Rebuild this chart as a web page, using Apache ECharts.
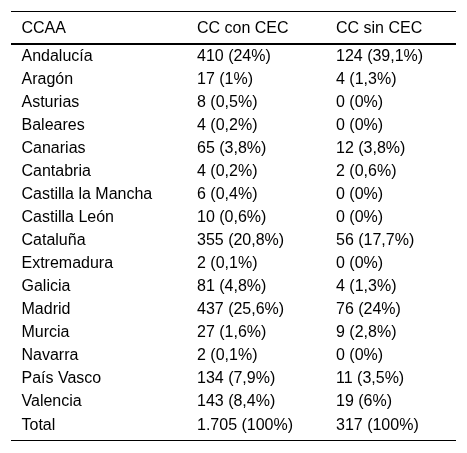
<!DOCTYPE html>
<html>
<head>
<meta charset="utf-8">
<script src="https://cdn.jsdelivr.net/npm/echarts@6/dist/echarts.min.js"></script>
<style>html,body{margin:0;padding:0;background:#fff}#c{width:467px;height:453px}</style>
</head>
<body>
<div id="c"></div>
<script>
const headers = ['CCAA', 'CC con CEC', 'CC sin CEC'];
const regions = ['Andalucía','Aragón','Asturias','Baleares','Canarias','Cantabria','Castilla la Mancha','Castilla León','Cataluña','Extremadura','Galicia','Madrid','Murcia','Navarra','País Vasco','Valencia','Total'];
const conCEC = ['410 (24%)','17 (1%)','8 (0,5%)','4 (0,2%)','65 (3,8%)','4 (0,2%)','6 (0,4%)','10 (0,6%)','355 (20,8%)','2 (0,1%)','81 (4,8%)','437 (25,6%)','27 (1,6%)','2 (0,1%)','134 (7,9%)','143 (8,4%)','1.705 (100%)'];
const sinCEC = ['124 (39,1%)','4 (1,3%)','0 (0%)','0 (0%)','12 (3,8%)','2 (0,6%)','0 (0%)','0 (0%)','56 (17,7%)','0 (0%)','4 (1,3%)','76 (24%)','9 (2,8%)','0 (0%)','11 (3,5%)','19 (6%)','317 (100%)'];

const colX = [21.5, 197, 336];
const font = 'Liberation Sans, Arial, sans-serif';
const fs = 16;
const chart = echarts.init(document.getElementById('c'));
const rowTop = 44.8, rowH = 23.05;
chart.setOption({
  animation: false,
  grid: {left: 0, right: 0, top: rowTop, height: rowH * regions.length},
  xAxis: {type: 'value', min: 0, max: 1, show: false},
  yAxis: {type: 'category', data: regions, inverse: true, show: false},
  series: [{
    type: 'custom',
    data: regions.map((r, i) => [0, i]),
    renderItem: function (params, api) {
      const p = api.coord([0, api.value(1)]);
      const i = params.dataIndex;
      const vals = [regions[i], conCEC[i], sinCEC[i]];
      return {
        type: 'group',
        children: vals.map((t, k) => ({
          type: 'text',
          style: {x: colX[k], y: p[1], text: t, fill: '#000', font: fs + 'px ' + font, textAlign: 'left', textVerticalAlign: 'middle'}
        }))
      };
    }
  }],
  graphic: [
    {type: 'line', shape: {x1: 11, y1: 11.5, x2: 456, y2: 11.5}, style: {stroke: '#000', lineWidth: 1}},
    {type: 'line', shape: {x1: 11, y1: 44, x2: 456, y2: 44}, style: {stroke: '#000', lineWidth: 2}},
    {type: 'line', shape: {x1: 11, y1: 440.5, x2: 456, y2: 440.5}, style: {stroke: '#000', lineWidth: 1}}
  ].concat(headers.map((h, k) => ({
    type: 'text', style: {x: colX[k], y: 28.2, text: h, fill: '#000', font: fs + 'px ' + font, textAlign: 'left', textVerticalAlign: 'middle'}
  })))
});
</script>
</body>
</html>
